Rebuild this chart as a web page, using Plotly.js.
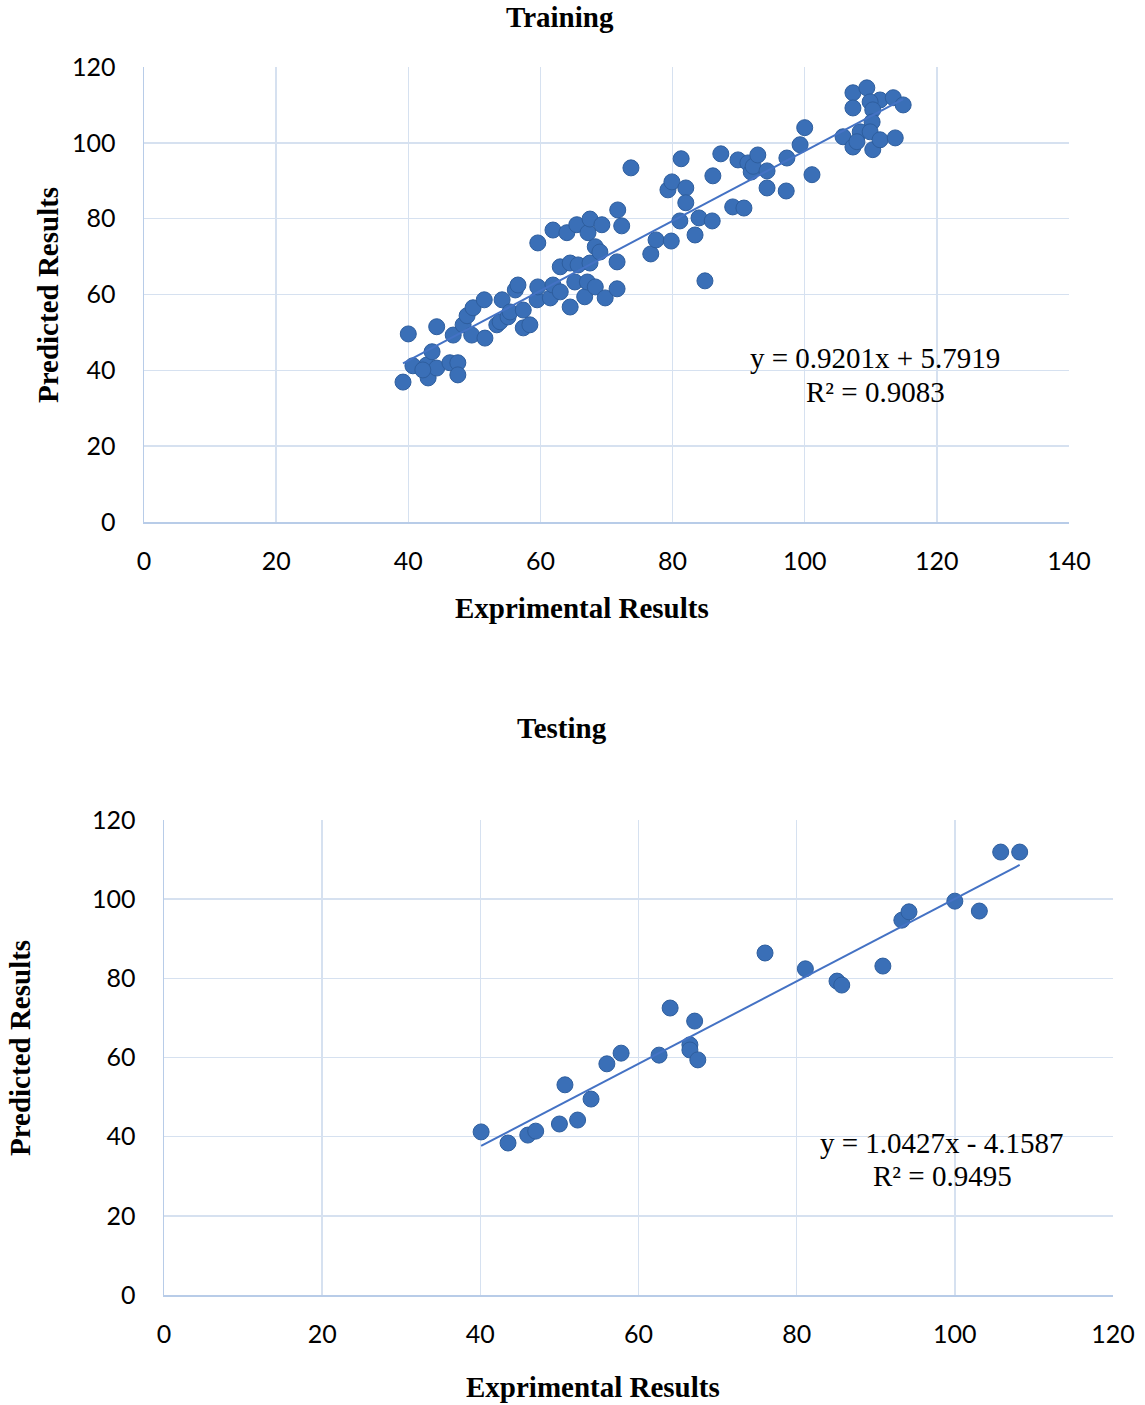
<!DOCTYPE html>
<html>
<head>
<meta charset="utf-8">
<script src="https://cdn.plot.ly/plotly-3.0.1.min.js"></script>
<style>html,body{margin:0;padding:0;background:#fff;}#chart{width:1145px;height:1405px;}</style>
</head>
<body>
<div id="chart"></div>
<script>
// ---- Training data (Exprimental vs Predicted) ----
const trainX = [39.2,40.0,40.7,42.8,43.0,43.6,44.3,44.3,46.3,47.5,47.5,46.8,48.3,48.9,49.6,49.8,51.5,51.6,53.4,53.9,54.2,55.1,55.4,56.2,56.6,57.4,57.4,58.4,59.5,59.6,59.6,61.5,61.9,61.9,63.0,63.0,64.0,64.5,64.5,65.2,65.5,65.7,66.7,67.1,67.2,67.5,67.5,68.3,68.3,69.0,69.3,69.8,71.6,71.6,71.7,72.3,73.7,76.7,77.5,79.3,79.8,79.9,81.1,81.3,82.0,82.0,83.4,84.0,84.9,86.0,86.1,87.3,89.1,89.9,90.8,91.4,91.9,92.2,92.9,94.3,94.3,97.2,97.3,99.3,100.0,101.1,105.8,107.3,109.4,111.4,113.4,114.9,107.3,109.9,110.3,110.2,108.4,109.9,107.3,110.3,111.4,113.7,107.9,42.2];
const trainY = [36.9,49.6,41.2,41.4,38.0,44.9,40.6,51.5,42.0,42.0,38.8,49.3,52.0,54.4,49.3,56.5,58.6,48.5,52.0,52.8,58.6,54.1,55.4,61.2,62.5,55.9,51.2,52.0,58.6,62.0,73.6,59.1,77.0,62.5,67.3,60.7,76.3,68.3,56.7,63.3,78.4,67.8,59.4,63.3,76.3,79.9,68.3,72.6,62.0,71.2,78.4,59.1,68.6,61.5,82.3,78.1,93.4,70.7,74.4,87.6,74.1,89.7,79.4,95.8,88.1,84.2,75.7,80.2,63.6,79.4,91.3,97.1,83.1,95.5,82.8,94.7,92.3,93.8,96.8,92.6,88.1,87.3,96.0,99.5,104.0,91.6,101.6,113.2,114.5,111.3,111.9,110.0,109.2,110.8,108.7,105.5,102.9,102.9,98.9,98.2,100.8,101.3,100.3,40.1];
const trainSlope = 0.9201, trainIntercept = 5.7919;
const trainEq = "y = 0.9201x + 5.7919";
const trainR2 = "R² = 0.9083";

// ---- Testing data ----
const testX = [40.1,43.5,46.0,47.0,50.0,50.7,52.3,54.0,56.0,57.8,62.6,64.0,66.5,66.5,67.1,67.5,76.0,81.1,85.1,85.7,90.9,93.3,94.2,100.0,103.1,105.8,108.2];
const testY = [41.2,38.4,40.4,41.4,43.2,53.1,44.2,49.5,58.4,61.1,60.6,72.5,63.2,61.9,69.2,59.4,86.4,82.4,79.3,78.3,83.1,94.7,96.8,99.5,97.0,111.9,111.9];
const testSlope = 1.0427, testIntercept = -4.1587;
const testEq = "y = 1.0427x - 4.1587";
const testR2 = "R² = 0.9495";

// ---- Axis ticks ----
const trainXTicks = [0,20,40,60,80,100,120,140];
const trainYTicks = [0,20,40,60,80,100,120];
const testXTicks = [0,20,40,60,80,100,120];
const testYTicks = [0,20,40,60,80,100,120];

const W = 1145, H = 1405;
const px = v => v / W;
const py = v => 1 - v / H;

const markerColor = '#3A6FB7';
const lineColor = '#4472C4';

function trend(xs, m, b) {
  const lo = Math.min(...xs), hi = Math.max(...xs);
  return { x: [lo, hi], y: [m * lo + b, m * hi + b] };
}
const tTr = trend(trainX, trainSlope, trainIntercept);
const tTe = trend(testX, testSlope, testIntercept);

const marker = { color: markerColor, size: 16, line: { color: '#2E5E9E', width: 1 } };

const data = [
  { type: 'scatter', mode: 'markers', x: trainX, y: trainY, xaxis: 'x', yaxis: 'y', marker: marker },
  { type: 'scatter', mode: 'lines', x: tTr.x, y: tTr.y, xaxis: 'x', yaxis: 'y', line: { color: lineColor, width: 2 } },
  { type: 'scatter', mode: 'markers', x: testX, y: testY, xaxis: 'x2', yaxis: 'y2', marker: marker },
  { type: 'scatter', mode: 'lines', x: tTe.x, y: tTe.y, xaxis: 'x2', yaxis: 'y2', line: { color: lineColor, width: 2 } }
];

const tickFont = { family: 'Lato, "Open Sans", sans-serif', size: 25, color: '#000' };
const gridC = '#D6E1F0';
const lineC = '#B8CCE8';

function ax(domain, range, ticks, anchor, standoff) {
  return {
    domain: domain, range: range, tickvals: ticks, ticktext: ticks.map(String),
    showgrid: true, gridcolor: gridC, gridwidth: 1.5,
    showline: true, linecolor: lineC, linewidth: 1.5, mirror: false,
    zeroline: false, ticks: '', tickfont: tickFont, anchor: anchor,
    ticklabelstandoff: standoff, fixedrange: true
  };
}

const serif = '"Liberation Serif", "Times New Roman", serif';
const titleFont = { family: serif, size: 29, color: '#000' };
const eqFont = { family: serif, size: 29, color: '#000' };

function ann(text, x, y, font, angle) {
  return { text: text, xref: 'paper', yref: 'paper', x: px(x), y: py(y),
    xanchor: 'center', yanchor: 'middle', showarrow: false, font: font, textangle: angle || 0 };
}

const layout = {
  width: W, height: H,
  margin: { l: 0, r: 0, t: 0, b: 0 },
  paper_bgcolor: '#fff', plot_bgcolor: '#fff',
  showlegend: false,
  xaxis: ax([px(144), px(1069)], [0, 140], trainXTicks, 'y', 16),
  yaxis: ax([py(522), py(67)], [0, 120], trainYTicks, 'x', 22),
  xaxis2: ax([px(164), px(1113)], [0, 120], testXTicks, 'y2', 16),
  yaxis2: ax([py(1295), py(820)], [0, 120], testYTicks, 'x2', 22),
  annotations: [
    ann('<b>Training</b>', 560, 17, titleFont),
    ann('<b>Exprimental Results</b>', 582, 608, titleFont),
    ann('<b>Predicted Results</b>', 48, 295, titleFont, -90),
    ann(trainEq, 875, 358, eqFont),
    ann(trainR2, 875, 392, eqFont),
    ann('<b>Testing</b>', 562, 728, titleFont),
    ann('<b>Exprimental Results</b>', 593, 1387, titleFont),
    ann('<b>Predicted Results</b>', 20, 1048, titleFont, -90),
    ann(testEq, 942, 1143, eqFont),
    ann(testR2, 942, 1176, eqFont)
  ]
};

Plotly.newPlot('chart', data, layout, { displayModeBar: false, staticPlot: true });
</script>
</body>
</html>
